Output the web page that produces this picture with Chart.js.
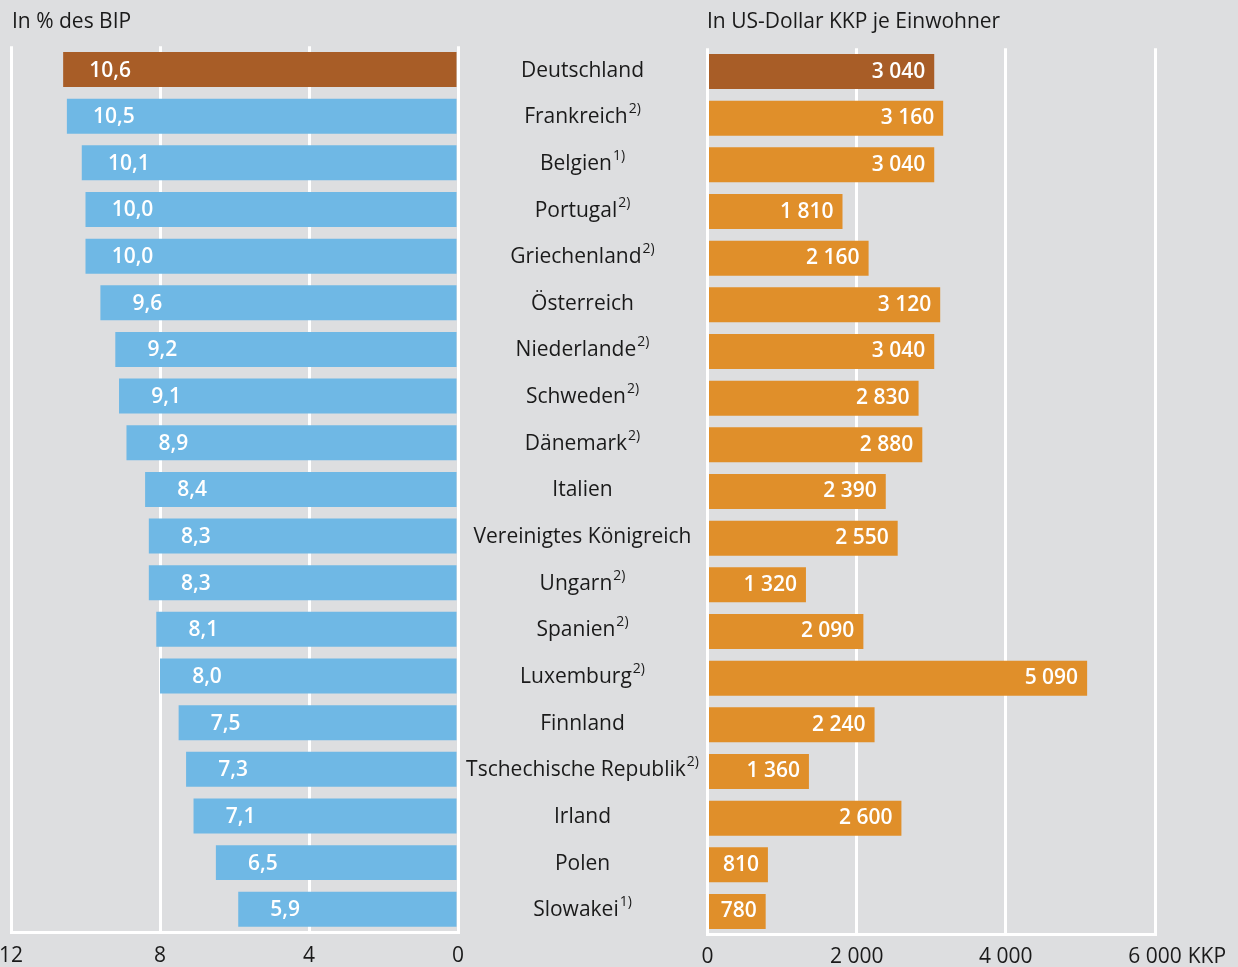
<!DOCTYPE html>
<html><head><meta charset="utf-8">
<script src="https://cdn.jsdelivr.net/npm/chart.js@4/dist/chart.umd.min.js"></script>
<style>
html,body{margin:0;padding:0;background:#dddee0;width:1238px;height:967px;overflow:hidden;font-family:"Open Sans",sans-serif;}
#wrap{position:relative;width:1238px;height:967px;}
.t{position:absolute;top:6px;font-size:21px;color:#1a1a1a;white-space:nowrap;line-height:28px;}
#cl{position:absolute;left:0;top:0;}
#cr{position:absolute;left:460px;top:0;}
</style></head><body>
<div id="wrap">
<canvas id="cl" width="470" height="967"></canvas>
<canvas id="cr" width="778" height="967"></canvas>
<div class="t" style="left:12px">In % des BIP</div>
<div class="t" style="left:707px">In US-Dollar KKP je Einwohner</div>
</div>
<script>
const countries = ['Deutschland','Frankreich','Belgien','Portugal','Griechenland','Österreich','Niederlande','Schweden','Dänemark','Italien','Vereinigtes Königreich','Ungarn','Spanien','Luxemburg','Finnland','Tschechische Republik','Irland','Polen','Slowakei'];
const footnotes = ['','2)','1)','2)','2)','','2)','2)','2)','','','2)','2)','2)','','2)','','','1)'];
const shareGDP = [10.6,10.5,10.1,10.0,10.0,9.6,9.2,9.1,8.9,8.4,8.3,8.3,8.1,8.0,7.5,7.3,7.1,6.5,5.9];
const perCapita = [3040,3160,3040,1810,2160,3120,3040,2830,2880,2390,2550,1320,2090,5090,2240,1360,2600,810,780];
const leftTicks = [0,4,8,12];
const rightTicks = [0,2000,4000,6000];
const rightUnit = 'KKP';

const FONT = '"Open Sans", sans-serif';
const TXT = '#1a1a1a';
const BROWN = '#a85d27';
const BLUE = '#6fb8e5';
const ORANGE = '#e08f2a';

const fmtDec = v => v.toFixed(1).replace('.', ',');
const fmtThou = v => String(Math.round(v)).replace(/\B(?=(\d{3})+(?!\d))/g, ' ');

const leftLabels = {
  id:'leftLabels',
  afterDatasetsDraw(chart){
    const ctx = chart.ctx; const meta = chart.getDatasetMeta(0);
    ctx.save();
    ctx.font = '600 21px ' + FONT; ctx.fillStyle = '#fff';
    ctx.textAlign = 'center'; ctx.textBaseline = 'middle';
    meta.data.forEach((el,i)=>{ ctx.fillText(fmtDec(shareGDP[i]), el.x + 47, el.y + 1); });
    ctx.restore();
  }
};
const rightLabels = {
  id:'rightLabels',
  afterDatasetsDraw(chart){
    const ctx = chart.ctx; const meta = chart.getDatasetMeta(0);
    ctx.save();
    ctx.font = '600 21px ' + FONT; ctx.fillStyle = '#fff';
    ctx.textAlign = 'right'; ctx.textBaseline = 'middle';
    meta.data.forEach((el,i)=>{ ctx.fillText(fmtThou(perCapita[i]), el.x - 9, el.y); });
    ctx.restore();
  },
  afterDraw(chart){
    const ctx = chart.ctx; const ys = chart.scales.y; const xs = chart.scales.x;
    ctx.save();
    ctx.fillStyle = TXT; ctx.textBaseline = 'middle'; ctx.textAlign = 'left';
    const cx = 582.5 - 460;
    countries.forEach((c,i)=>{
      const y = ys.getPixelForValue(i) - 1;
      ctx.font = '21px ' + FONT; const w1 = ctx.measureText(c).width;
      let w2 = 0;
      if (footnotes[i]) { ctx.font = '14px ' + FONT; w2 = ctx.measureText(footnotes[i]).width + 1; }
      const x0 = cx - (w1 + w2) / 2;
      ctx.font = '21px ' + FONT; ctx.fillText(c, x0, y);
      if (footnotes[i]) { ctx.font = '14px ' + FONT; ctx.fillText(footnotes[i], x0 + w1 + 1, y - 8); }
    });
    ctx.font = '21px ' + FONT;
    const last = rightTicks[rightTicks.length-1];
    const px = xs.getPixelForValue(last);
    const hw = ctx.measureText(fmtThou(last)).width / 2;
    ctx.fillText(rightUnit, px + hw + 6, xs.top + 10 + 12.6);
    ctx.restore();
  }
};

new Chart(document.getElementById('cl'), {
  type:'bar',
  data:{labels:countries, datasets:[{data:shareGDP, backgroundColor:countries.map((c,i)=> i===0?BROWN:BLUE), barPercentage:0.75, categoryPercentage:1}]},
  options:{
    indexAxis:'y', responsive:false, animation:false,
    layout:{padding:{top:46.2,left:11,right:12,bottom:0}},
    plugins:{legend:{display:false}, tooltip:{enabled:false}},
    scales:{
      x:{min:0,max:12,reverse:true,
        afterBuildTicks(s){ s.ticks = leftTicks.map(v=>({value:v})); },
        ticks:{color:TXT,font:{family:FONT,size:21},padding:11,maxRotation:0,autoSkip:false,callback:v=>String(v)},
        grid:{color:'#ffffff',lineWidth:3,drawTicks:false},
        border:{color:'#ffffff',width:3},
        afterFit(s){ s.height = 967 - 932.6; s.paddingLeft = 0; s.paddingRight = 0; }
      },
      y:{display:false}
    }
  },
  plugins:[leftLabels]
});

new Chart(document.getElementById('cr'), {
  type:'bar',
  data:{labels:countries, datasets:[{data:perCapita, backgroundColor:countries.map((c,i)=> i===0?BROWN:ORANGE), barPercentage:0.75, categoryPercentage:1}]},
  options:{
    indexAxis:'y', responsive:false, animation:false,
    layout:{padding:{top:48.2,left:0,right:83,bottom:0}},
    plugins:{legend:{display:false}, tooltip:{enabled:false}},
    scales:{
      x:{min:0,max:6000,
        afterBuildTicks(s){ s.ticks = rightTicks.map(v=>({value:v})); },
        ticks:{color:TXT,font:{family:FONT,size:21},padding:10,maxRotation:0,autoSkip:false,callback:v=>fmtThou(v)},
        grid:{color:'#ffffff',lineWidth:3,drawTicks:false},
        border:{color:'#ffffff',width:3},
        afterFit(s){ s.height = 967 - 934.8; s.paddingLeft = 0; s.paddingRight = 0; }
      },
      y:{display:true, grid:{display:false}, border:{display:false}, ticks:{display:false},
        afterFit(s){ s.width = 707.5 - 460; }
      }
    }
  },
  plugins:[rightLabels]
});
</script>
</body></html>
